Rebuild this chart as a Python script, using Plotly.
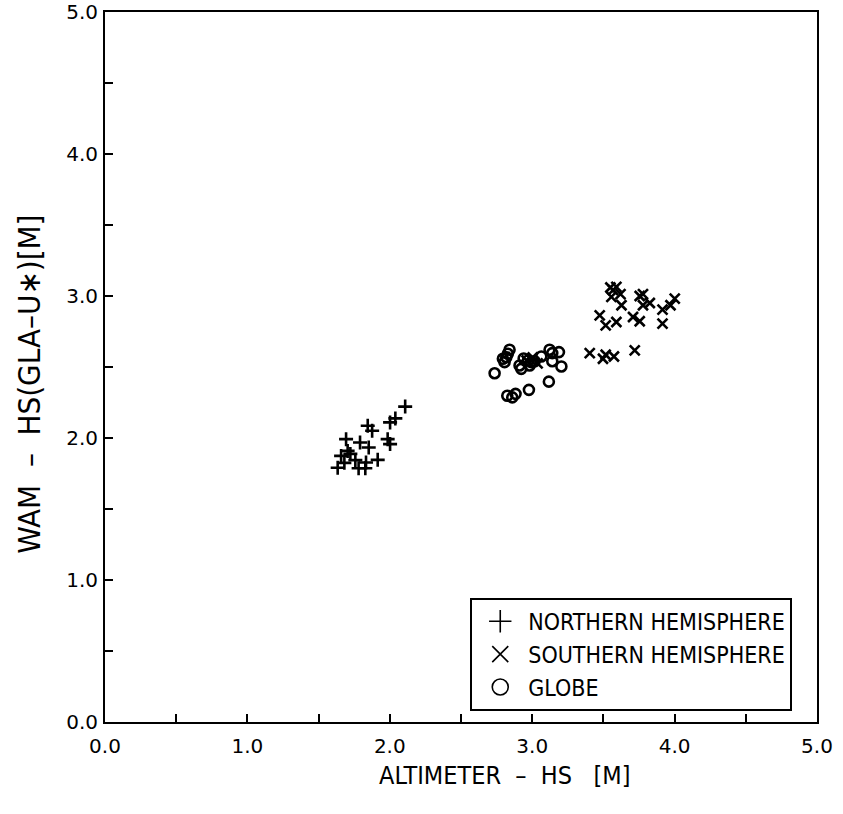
import plotly.graph_objects as go

north_x = [2.108, 2.002, 2.039, 1.845, 1.876, 1.693, 1.791, 1.852, 1.985, 2.002,
           1.704, 1.658, 1.758, 1.833, 1.915, 1.634, 1.781, 1.828, 1.681, 1.723]
north_y = [2.221, 2.110, 2.138, 2.086, 2.051, 1.992, 1.968, 1.933, 1.992, 1.957,
           1.909, 1.874, 1.844, 1.827, 1.846, 1.791, 1.787, 1.787, 1.825, 1.888]

south_x = [3.549, 3.591, 3.568, 3.556, 3.620, 3.627, 3.755, 3.778, 3.778, 3.826,
           3.474, 3.516, 3.591, 3.708, 3.755, 3.915, 3.971, 4.001, 3.915, 3.404,
           3.497, 3.516, 3.574, 3.720, 2.961, 3.003, 3.038]
south_y = [3.060, 3.064, 3.041, 2.994, 3.013, 2.935, 3.000, 3.013, 2.935, 2.951,
           2.864, 2.793, 2.817, 2.852, 2.822, 2.904, 2.935, 2.982, 2.805, 2.598,
           2.558, 2.586, 2.574, 2.617, 2.546, 2.567, 2.525]

globe_x = [2.841, 2.829, 2.818, 2.794, 2.806, 2.736, 2.911, 2.923, 2.970, 2.994,
           3.017, 2.982, 2.940, 3.064, 3.122, 3.141, 3.188, 3.141, 3.205, 3.117,
           2.977, 2.825, 2.860, 2.883]
globe_y = [2.622, 2.593, 2.569, 2.558, 2.534, 2.456, 2.511, 2.487, 2.546, 2.534,
           2.541, 2.511, 2.560, 2.574, 2.622, 2.598, 2.605, 2.541, 2.504, 2.397,
           2.339, 2.298, 2.286, 2.311]

series_names = ["NORTHERN HEMISPHERE", "SOUTHERN HEMISPHERE", "GLOBE"]
tick_vals = [0, 1, 2, 3, 4, 5]
tick_text = ["0.0", "1.0", "2.0", "3.0", "4.0", "5.0"]
x_title = "ALTIMETER  –  HS   [M]"
y_title = "WAM  –  HS(GLA–U∗)[M]"

COND = "DejaVu Sans Condensed, Liberation Sans Narrow, Roboto Condensed, Arial Narrow, sans-serif"

fig = go.Figure()
data = [(north_x, north_y, "cross-thin"), (south_x, south_y, "x-thin"), (globe_x, globe_y, "circle-open")]
for (xs, ys, sym), name in zip(data, series_names):
    fig.add_trace(go.Scatter(x=xs, y=ys, mode="markers", showlegend=False,
                             marker=dict(symbol=sym, size=10, color="black",
                                         line=dict(color="black", width=2.6))))
for (xs, ys, sym), name in zip(data, series_names):
    fig.add_trace(go.Scatter(x=[None], y=[None], mode="markers", name=name,
                             marker=dict(symbol=sym, size=16, color="black",
                                         line=dict(color="black", width=1.6))))

axis_common = dict(range=[0, 5], showgrid=False, zeroline=False, automargin=False,
                   showline=True, linecolor="black", linewidth=2, mirror=True,
                   ticks="inside", ticklen=8, tickwidth=1.5, tickcolor="black",
                   tickvals=tick_vals, ticktext=tick_text,
                   tickfont=dict(family="DejaVu Sans", size=20, color="black"),
                   minor=dict(dtick=0.5, ticks="inside", ticklen=8, tickwidth=1.5, tickcolor="black"))

fig.update_xaxes(**axis_common, ticklabelstandoff=5)
fig.update_yaxes(**axis_common, ticklabelstandoff=1)

fig.add_annotation(text=x_title, xref="paper", yref="paper", x=0.561, y=-0.076,
                   showarrow=False, xanchor="center", yanchor="middle",
                   font=dict(family=COND, size=25, color="black"))
fig.add_annotation(text=y_title, xref="paper", yref="paper", x=-0.107, y=0.476,
                   showarrow=False, xanchor="center", yanchor="middle", textangle=-90,
                   font=dict(family=COND, size=31, color="black"))

fig.update_layout(
    width=843, height=814,
    margin=dict(l=105, r=26, t=12, b=92),
    plot_bgcolor="white", paper_bgcolor="white",
    legend=dict(x=0.513, y=0.175, xanchor="left", yanchor="top",
                bordercolor="black", borderwidth=2, bgcolor="white",
                font=dict(family=COND, size=23, color="black"),
                itemwidth=46, tracegroupgap=0),
)

fig.write_html("out.html", config={"displayModeBar": False},
               post_script="document.body.style.margin='0';document.body.style.overflow='hidden';")
